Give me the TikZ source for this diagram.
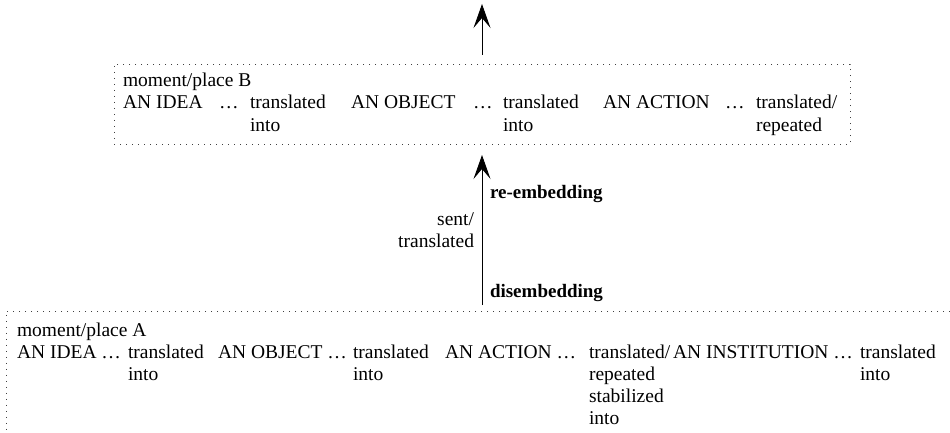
\documentclass[tikz,border=0pt]{standalone}
\usepackage{fontspec}
\setmainfont{Liberation Serif}
\usetikzlibrary{arrows.meta}
\newcommand{\stk}[1]{\begin{tabular}[t]{@{}l@{}}#1\end{tabular}}
\newcommand{\stkr}[1]{\begin{tabular}[t]{@{}r@{}}#1\end{tabular}}
\begin{document}
\begin{tikzpicture}[x=1pt,y=-1pt,
  txt/.style={inner sep=0pt, outer sep=0pt, anchor=base west, font=\fontsize{19.5}{22.2}\selectfont},
  txtr/.style={txt, anchor=base east},
  lbl/.style={txt, font=\fontsize{19}{22.2}\selectfont\bfseries},
  dotbox/.style={draw=black!75, line width=0.8pt, dash pattern=on 0.8pt off 5.2pt, inner sep=0pt, outer sep=0pt},
  arr/.style={-{Stealth[length=24pt,width=17pt,inset=10pt]}, line width=0.9pt}]
\useasboundingbox (0,0) rectangle (950,433);
\begin{scope}
\clip (0,0) rectangle (950,433);
% boxes
\node[dotbox, minimum width=736pt, minimum height=80pt] (boxB) at (482,104) {};
\node[dotbox, minimum width=954pt, minimum height=134pt] (boxA) at (483,378) {};
\coordinate (top) at (482,4);
% arrows
\draw[arr] ([yshift=9pt]boxB.north) -- (top);
\draw[arr] ([yshift=6pt]boxA.north -| boxB.south) -- ([yshift=-11pt]boxB.south);
% arrow labels
\node[lbl] (reemb) at (490,198) {re-embedding};
\node[txtr] (sent) at (474,225) {\stkr{sent/\\translated}};
\node[lbl] (disemb) at (490,297) {disembedding};
% box B content
\node[txt] (placeB) at (123,86.7) {moment/place B};
\node[txt] (bIdea) at (123,109) {AN IDEA};
\node[txt] (bd1) at (219,109) {…};
\node[txt] (bt1) at (250,109) {\stk{translated\\into}};
\node[txt] (bObj) at (351,109) {AN OBJECT};
\node[txt] (bd2) at (473,109) {…};
\node[txt] (bt2) at (503,109) {\stk{translated\\into}};
\node[txt] (bAct) at (603,109) {AN ACTION};
\node[txt] (bd3) at (725,109) {…};
\node[txt] (bt3) at (756,109) {\stk{translated/\\repeated}};
% box A content
\node[txt] (placeA) at (17,336) {moment/place A};
\node[txt] (aIdea) at (17,358) {AN IDEA …};
\node[txt] (at1) at (128,358) {\stk{translated\\into}};
\node[txt] (aObj) at (218,358) {AN OBJECT …};
\node[txt] (at2) at (353,358) {\stk{translated\\into}};
\node[txt] (aAct) at (445,358) {AN ACTION …};
\node[txt] (at3) at (589,358) {\stk{translated/\\repeated\\stabilized\\into}};
\node[txt] (aInst) at (673,358) {AN INSTITUTION …};
\node[txt] (at4) at (860,358) {\stk{translated\\into}};
\end{scope}
\end{tikzpicture}
\end{document}
